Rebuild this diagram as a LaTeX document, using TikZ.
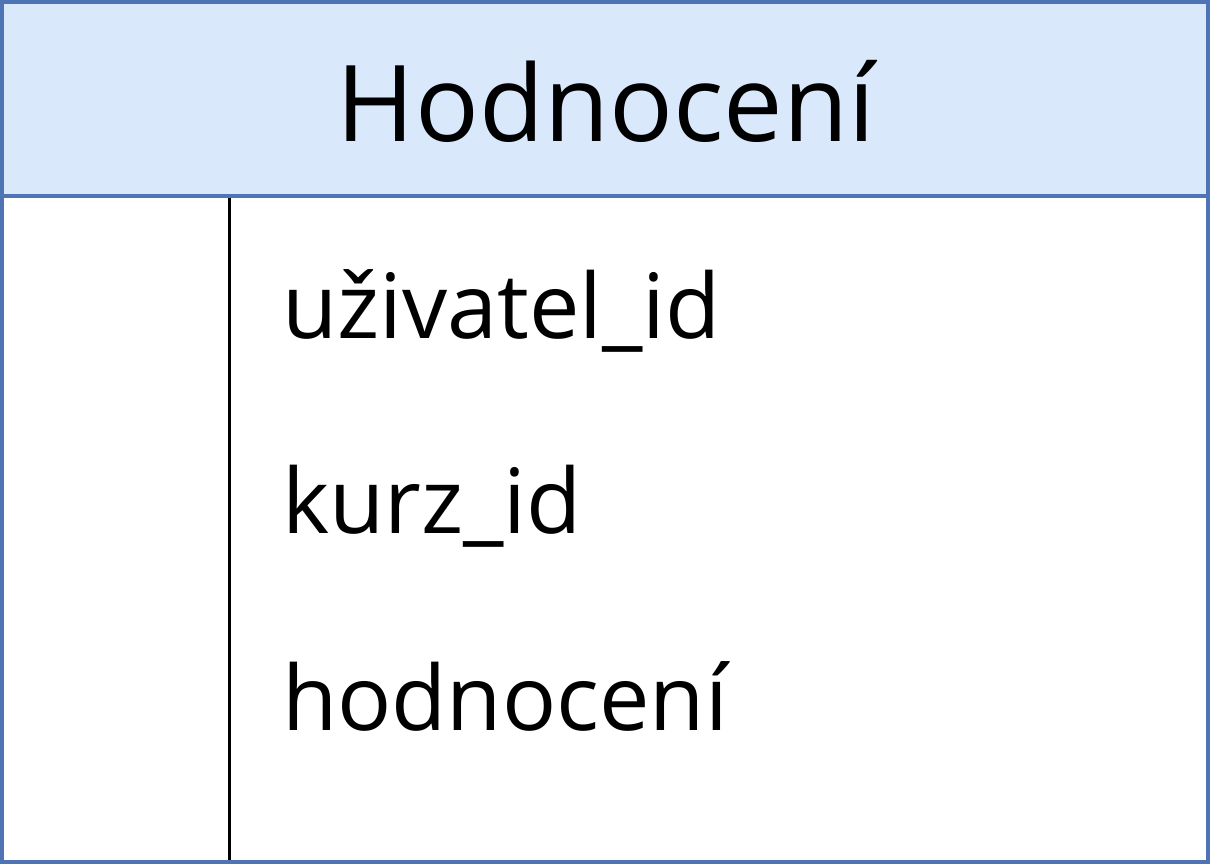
\documentclass[tikz,border=0pt]{standalone}
\usepackage{fontspec}
\setmainfont{Open Sans}
\definecolor{hdrfill}{HTML}{DAE8FC}
\definecolor{hdrline}{HTML}{4F74B5}
\tikzset{
  rowtext/.style={anchor=base west, inner sep=0pt, font=\fontsize{90}{100}\selectfont},
  headtext/.style={anchor=base, inner sep=0pt, font=\fontsize{106}{120}\selectfont},
}
\begin{document}
\begin{tikzpicture}[x=1pt,y=-1pt]
\useasboundingbox (0,0) rectangle (1210,864);
\fill[white] (0,0) rectangle (1210,864);
\fill[hdrfill] (2,2) rectangle (1208,196);
\draw[hdrline, line width=4pt] (2,2) rectangle (1208,862);
\draw[hdrline, line width=4pt] (2,196) -- (1208,196);
\coordinate (vtop) at (229,198);
\coordinate (vbot) at (229,860);
\draw[black, line width=3pt] (vtop) -- (vbot);
\node[headtext] (title) at (606,142) {Hodnocení};
\node[rowtext] (r1) at (282,338) {uživatel\_id};
\node[rowtext] (r2) at (282,533) {kurz\_id};
\node[rowtext] (r3) at (282,730) {hodnocení};
\end{tikzpicture}
\end{document}
